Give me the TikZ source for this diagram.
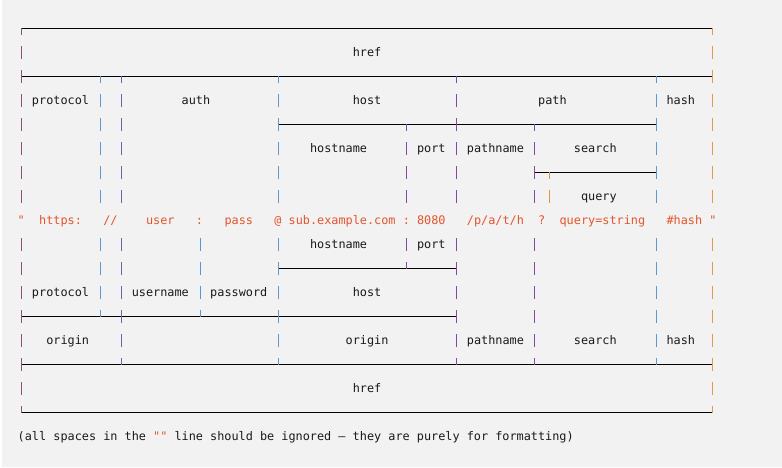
\documentclass[tikz,border=0pt]{standalone}
\usepackage{fontspec}
\newfontfamily\monofnt{DejaVu Sans Mono}
\definecolor{bgcol}{HTML}{F2F2F2}
\definecolor{txtcol}{HTML}{1A1A1A}
\definecolor{qcol}{HTML}{E4552C}
\definecolor{cLeft}{HTML}{8E4E86}
\definecolor{cBlue}{HTML}{5E98D0}
\definecolor{cBlueB}{HTML}{5096DA}
\definecolor{cViol}{HTML}{7460B0}
\definecolor{cPurp}{HTML}{8648A8}
\definecolor{cOrgB}{HTML}{D8963E}
\definecolor{cOrg}{HTML}{E09A48}
\newcommand{\putlbl}[4]{\node[lbl] (#1) at ({cx(#2)-3.565},{ry(#3)+4.7}) {#4};}
\newcommand{\putq}[3]{\node[qt] (#1) at ({cx(#2)-3.565},{ry(9)+4.7}) {#3};}
\newcommand{\vbF}[3]{\foreach \rw in {#3} {\draw[vb,draw=#1] (#2,{ry(\rw)-6}) -- (#2,{ry(\rw)+7});}}
\newcommand{\vbD}[3]{\foreach \rw in {#3} {\draw[vb,draw=#1] (#2,{ry(\rw)}) -- (#2,{ry(\rw)+7});}}
\newcommand{\vbU}[3]{\foreach \rw in {#3} {\draw[vb,draw=#1] (#2,{ry(\rw)-6}) -- (#2,{ry(\rw)+0.5});}}
\newcommand{\hrl}[3]{\draw[hl] (#2,{ry(#1)+0.5}) -- (#3,{ry(#1)+0.5});}
\begin{document}
\begin{tikzpicture}[x=1pt,y=-1pt,
  declare function={cx(\cc)=14.17+\cc*7.13; ry(\rr)=4+24*\rr;},
  lbl/.style={inner sep=0pt, outer sep=0pt, anchor=base west,
    font=\monofnt\fontsize{11.84}{14}\selectfont\frenchspacing, text=txtcol},
  qt/.style={lbl, text=qcol},
  hl/.style={line width=1pt, draw=black},
  vb/.style={line width=1.3pt}]
\useasboundingbox (0,0) rectangle (782,467);
\fill[bgcol] (0,0) rectangle (782,467);
\fill[white] (0,0) rectangle (2,467);
% horizontal rules
\hrl{1}{21.5}{712.5}
\hrl{3}{21.5}{712.5}
\hrl{5}{278.5}{656.5}
\hrl{7}{534.5}{656.5}
\hrl{11}{278.5}{456.5}
\hrl{13}{21.5}{456.5}
\hrl{15}{21.5}{712.5}
\hrl{17}{21.5}{712.5}
% vertical bars
\vbD{cLeft}{21.5}{1} \vbF{cLeft}{21.5}{2,...,8,10,11,...,16} \vbU{cLeft}{21.5}{17}
\vbD{cOrg}{712.5}{1} \vbF{cOrg}{712.5}{2,...,8,10,11,...,16} \vbU{cOrg}{712.5}{17}
\vbD{cBlue}{100.5}{3} \vbF{cBlue}{100.5}{4,...,8,10,11,12} \vbU{cBlue}{100.5}{13}
\vbD{cViol}{121.5}{3} \vbF{cViol}{121.5}{4,...,8,10,11,...,14} \vbU{cViol}{121.5}{15}
\vbF{cBlueB}{200.5}{10,11,12} \vbU{cBlueB}{200.5}{13}
\vbD{cBlue}{278.5}{3} \vbF{cBlue}{278.5}{4,...,8,10,11,...,14} \vbU{cBlue}{278.5}{15}
\vbD{cPurp}{406.5}{5} \vbF{cPurp}{406.5}{6,7,8,10} \vbU{cPurp}{406.5}{11}
\vbD{cPurp}{456.5}{3} \vbF{cPurp}{456.5}{4,...,8,10,11,...,14} \vbU{cPurp}{456.5}{15}
\vbD{cPurp}{534.5}{5} \vbF{cPurp}{534.5}{6,7,8,10,11,...,14} \vbU{cPurp}{534.5}{15}
\vbD{cOrgB}{549.5}{7} \vbF{cOrgB}{549.5}{8}
\vbD{cBlue}{656.5}{3} \vbF{cBlue}{656.5}{4,...,8,10,11,...,14} \vbU{cBlue}{656.5}{15}
% upper labels
\putlbl{hrefT}{48}{2}{href}
\putlbl{protocolT}{3}{4}{protocol}
\putlbl{auth}{24}{4}{auth}
\putlbl{hostT}{48}{4}{host}
\putlbl{path}{74}{4}{path}
\putlbl{hashT}{92}{4}{hash}
\putlbl{hostnameT}{42}{6}{hostname}
\putlbl{portT}{57}{6}{port}
\putlbl{pathnameT}{64}{6}{pathname}
\putlbl{searchT}{79}{6}{search}
\putlbl{query}{80}{8}{query}
% the URL line
\putq{q1}{1}{"}
\putq{q2}{4}{https:}
\putq{q3}{13}{//}
\putq{q4}{19}{user}
\putq{q5}{26}{:}
\putq{q6}{30}{pass}
\putq{q7}{37}{@}
\putq{q8}{39}{sub.example.com}
\putq{q9}{55}{:}
\putq{q10}{57}{8080}
\putq{q11}{64}{/p/a/t/h}
\putq{q12}{74}{?}
\putq{q13}{77}{query=string}
\putq{q14}{92}{\#hash}
\putq{q15}{98}{"}
% lower labels
\putlbl{hostnameB}{42}{10}{hostname}
\putlbl{portB}{57}{10}{port}
\putlbl{protocolB}{3}{12}{protocol}
\putlbl{username}{17}{12}{username}
\putlbl{password}{28}{12}{password}
\putlbl{hostB}{48}{12}{host}
\putlbl{originL}{5}{14}{origin}
\putlbl{originR}{47}{14}{origin}
\putlbl{pathnameB}{64}{14}{pathname}
\putlbl{searchB}{79}{14}{search}
\putlbl{hashB}{92}{14}{hash}
\putlbl{hrefB}{48}{16}{href}
% footnote
\putlbl{note}{1}{18}{(all spaces in the \textcolor{qcol}{""} line should be ignored — they are purely for formatting)}
\end{tikzpicture}
\end{document}
